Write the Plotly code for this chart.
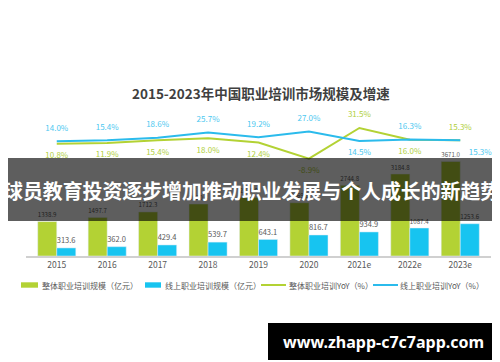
import plotly.graph_objects as go

years = ["2015", "2016", "2017", "2018", "2019", "2020", "2021e", "2022e", "2023e"]
total_scale = [1338.9, 1497.7, 1712.3, 2020.4, 2270.9, 2069.1, 2744.8, 3184.8, 3671.0]
online_scale = [313.6, 362.0, 429.4, 539.7, 643.1, 816.7, 934.9, 1087.4, 1253.6]
total_yoy = [10.8, 11.9, 15.4, 18.0, 12.4, -8.9, 31.5, 16.0, 15.3]
online_yoy = [14.0, 15.4, 18.6, 25.7, 19.2, 27.0, 14.5, 16.3, 15.3]

title_text = "2015-2023年中国职业培训市场规模及增速"
banner_text = "球员教育投资逐步增加推动职业发展与个人成长的新趋势"
watermark_text = "www.zhapp-c7c7app.com"
legend_names = ["整体职业培训规模（亿元）", "线上职业培训规模（亿元）",
                "整体职业培训YoY（%）", "线上职业培训YoY（%）"]

GREEN = "#b3d234"
BLUE = "#17c4f0"
BLUE_LINE = "#2bbbec"
GREEN_LBL = "#b0cf3c"
BLUE_LBL = "#4cc8f0"
FONT = "Noto Sans CJK SC"

W, H = 500, 362
L, R, T, B = 18, 17, 100, 114
PW, PH = W - L - R, H - T - B


def px(x):
    return (x - L) / PW


def py(y):
    return (H - B - y) / PH


fig = go.Figure()
fig.add_trace(go.Bar(
    x=years, y=total_scale, name=legend_names[0], marker_color=GREEN,
    text=total_scale, texttemplate="%{y:.1f}", textposition="outside",
    textfont=dict(size=8.5, color="#595959", family=FONT), cliponaxis=False,
    showlegend=False))
fig.add_trace(go.Bar(
    x=years, y=online_scale, name=legend_names[1], marker_color=BLUE,
    text=online_scale, texttemplate="%{y:.1f}", textposition="outside",
    textfont=dict(size=8.5, color="#595959", family=FONT), cliponaxis=False,
    showlegend=False))

g_pos = ["bottom center"] * 9
g_pos[6] = "top center"
g_pos[8] = "top center"
b_pos = ["top center"] * 9
b_pos[6] = "bottom center"
b_pos[8] = "bottom right"

fig.add_trace(go.Scatter(
    x=years, y=total_yoy, yaxis="y2", mode="lines+markers+text",
    name=legend_names[2], line=dict(color=GREEN, width=2),
    marker=dict(size=12, color="rgba(0,0,0,0)"),
    texttemplate="%{y:.1f}%", textposition=g_pos,
    textfont=dict(size=8, color=GREEN_LBL, family=FONT), cliponaxis=False,
    showlegend=False))
fig.add_trace(go.Scatter(
    x=years, y=online_yoy, yaxis="y2", mode="lines+markers+text",
    name=legend_names[3], line=dict(color=BLUE_LINE, width=2),
    marker=dict(size=12, color="rgba(0,0,0,0)"),
    texttemplate="%{y:.1f}%", textposition=b_pos,
    textfont=dict(size=8, color=BLUE_LBL, family=FONT), cliponaxis=False,
    showlegend=False))

shapes = []
annotations = []

# manual legend
leg_y = 277
items = [
    ("rect", 13, 30, GREEN, 32, legend_names[0]),
    ("rect", 137, 153, BLUE, 155, legend_names[1]),
    ("line", 253, 278, GREEN, 279, legend_names[2]),
    ("line", 365, 390, BLUE_LINE, 390, legend_names[3]),
]
for kind, x0, x1, col, tx, name in items:
    if kind == "rect":
        shapes.append(dict(type="rect", xref="paper", yref="paper",
                           x0=px(x0), x1=px(x1), y0=py(leg_y + 2.7), y1=py(leg_y - 2.7),
                           fillcolor=col, line=dict(width=0)))
    else:
        shapes.append(dict(type="line", xref="paper", yref="paper",
                           x0=px(x0), x1=px(x1), y0=py(leg_y), y1=py(leg_y),
                           line=dict(color=col, width=2)))
    annotations.append(dict(text=name, xref="paper", yref="paper", x=px(tx), y=py(leg_y),
                            xanchor="left", yanchor="middle", showarrow=False,
                            font=dict(size=8, color="#595959", family=FONT)))

# title
annotations.append(dict(text="<b>" + title_text + "</b>", xref="paper", yref="paper",
                        x=px(253), y=py(85), xanchor="center", yanchor="middle",
                        showarrow=False, font=dict(size=13.5, color="#404040", family=FONT)))

# banner overlay
shapes.append(dict(type="rect", xref="paper", yref="paper", layer="above",
                   x0=px(0), x1=px(500), y0=py(213), y1=py(150),
                   fillcolor="rgba(0,0,0,0.63)", line=dict(width=0)))
annotations.append(dict(text="<b>" + banner_text + "</b>", xref="paper", yref="paper",
                        x=px(243), y=py(182), xanchor="center", yanchor="middle",
                        showarrow=False, font=dict(size=19.9, color="white", family=FONT)))

# watermark
shapes.append(dict(type="rect", xref="paper", yref="paper", layer="above",
                   x0=px(260), x1=px(491), y0=py(352), y1=py(315),
                   fillcolor="black", line=dict(width=0)))
annotations.append(dict(text="<b>" + watermark_text + "</b>", xref="paper", yref="paper",
                        x=px(375), y=py(334), xanchor="center", yanchor="middle",
                        showarrow=False, font=dict(size=16, color="white", family="Noto Sans")))

fig.update_layout(
    width=W, height=H, margin=dict(l=L, r=R, t=T, b=B),
    paper_bgcolor="white", plot_bgcolor="white",
    barmode="group", bargap=0.245, bargroupgap=0,
    font=dict(family=FONT, color="#595959"),
    xaxis=dict(type="category", showline=True, linecolor="#d0d0d0", linewidth=2,
               ticks="", showgrid=False, tickfont=dict(size=8.5, color="#595959")),
    yaxis=dict(range=[0, 5750], visible=False, showgrid=False, zeroline=False),
    yaxis2=dict(range=[-136.9, 57.8], overlaying="y", visible=False,
                showgrid=False, zeroline=False),
    shapes=shapes, annotations=annotations, showlegend=False,
)

fig.write_html("out.html")
